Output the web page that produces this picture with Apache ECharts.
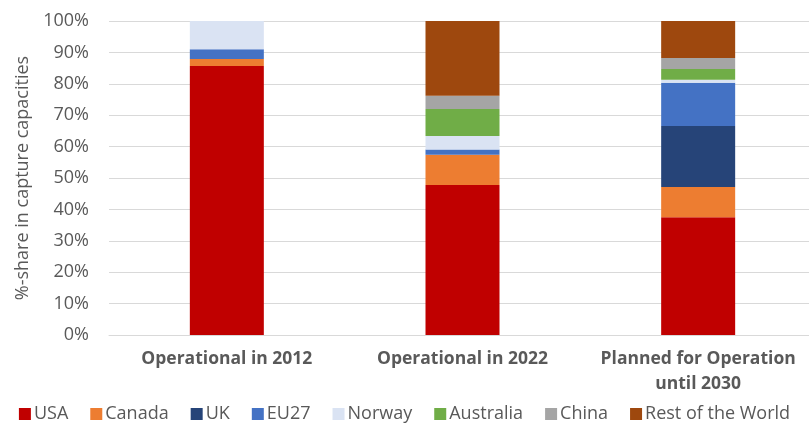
<!DOCTYPE html>
<html>
<head>
<meta charset="utf-8">
<script src="https://cdn.jsdelivr.net/npm/echarts@6/dist/echarts.min.js"></script>
<style>html,body{margin:0;padding:0;background:#fff}#c{width:809px;height:434px}</style>
</head>
<body>
<div id="c"></div>
<script>
const categories = ['Operational in 2012', 'Operational in 2022', 'Planned for Operation\nuntil 2030'];
const seriesNames = ['USA', 'Canada', 'UK', 'EU27', 'Norway', 'Australia', 'China', 'Rest of the World'];
const usa = [85.7, 47.8, 37.5];
const canada = [2.2, 9.6, 9.6];
const uk = [0, 0, 19.5];
const eu27 = [3.1, 1.7, 13.7];
const norway = [9.0, 4.3, 1.0];
const australia = [0, 8.6, 3.4];
const china = [0, 4.2, 3.5];
const restOfWorld = [0, 23.8, 11.8];
const yTicks = [0, 10, 20, 30, 40, 50, 60, 70, 80, 90, 100];
const colors = ['#C00000', '#ED7D31', '#264478', '#4472C4', '#DAE3F3', '#70AD47', '#A5A5A5', '#9E480E'];
const values = [usa, canada, uk, eu27, norway, australia, china, restOfWorld];

const chart = echarts.init(document.getElementById('c'), null, {renderer: 'canvas'});
const font = 'Open Sans';
chart.setOption({
  animation: false,
  color: colors,
  grid: {left: 109, top: 21, width: 707, height: 314, containLabel: false, outerBoundsMode: 'none'},
  legend: {
    bottom: 6, left: 'center',
    itemWidth: 12, itemHeight: 12, itemGap: 22, icon: 'rect',
    textStyle: {fontFamily: font, fontSize: 18, color: '#595959', padding: [0, 0, 0, -2]},
    data: seriesNames
  },
  xAxis: {
    type: 'category', data: categories,
    axisLine: {show: true, lineStyle: {color: '#D9D9D9', width: 1}},
    axisTick: {show: false},
    axisLabel: {interval: 0, hideOverlap: false, fontFamily: font, fontSize: 17.5, fontWeight: 'bold', color: '#595959', margin: 12, lineHeight: 25}
  },
  yAxis: {
    type: 'value', min: 0, max: 100, interval: 10,
    name: '%-share in capture capacities', nameLocation: 'middle', nameGap: 77,
    nameTextStyle: {fontFamily: font, fontSize: 18, color: '#595959'},
    axisLine: {show: false}, axisTick: {show: false},
    splitLine: {lineStyle: {color: '#D9D9D9', width: 1}},
    axisLabel: {fontFamily: font, fontSize: 18, color: '#595959', margin: 20,
      formatter: v => yTicks.includes(v) ? v + '%' : ''}
  },
  series: seriesNames.map((n, i) => ({
    name: n, type: 'bar', stack: 'total', data: values[i],
    barWidth: 74,
    itemStyle: {color: colors[i]}
  }))
});
</script>
</body>
</html>
